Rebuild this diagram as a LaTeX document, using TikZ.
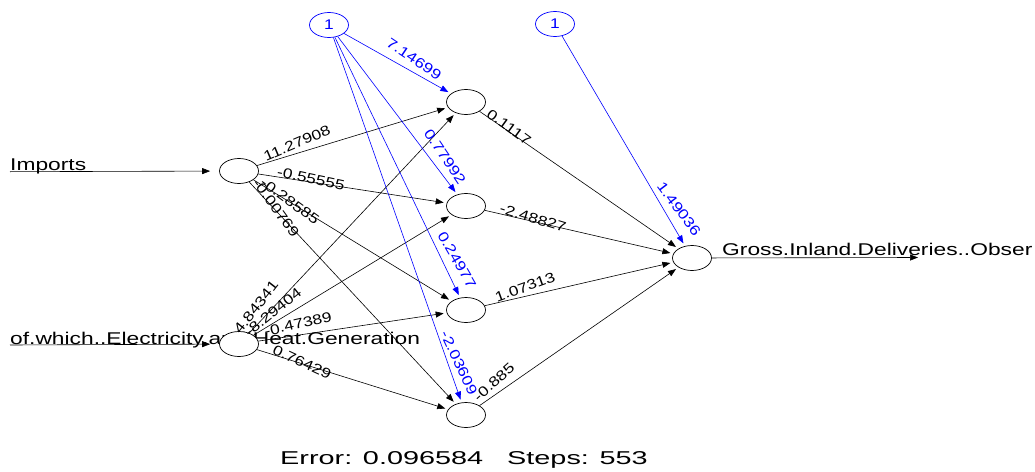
\documentclass[tikz,border=0pt]{standalone}
\usepackage{fontspec}
\setmainfont{Liberation Sans}
\newfontfamily\lblfont{Liberation Sans}[FakeStretch=1.34]
\newfontfamily\wtfont{Liberation Sans}[FakeStretch=1.24]
\newfontfamily\errfont{Liberation Sans}[FakeStretch=1.55]
\usetikzlibrary{arrows.meta,shapes.geometric}

\tikzset{
  neuron/.style={ellipse, draw, fill=white, minimum width=39pt, minimum height=25pt, inner sep=0pt, line width=0.7pt},
  biasn/.style={neuron, draw=blue, text=blue, font=\wtfont\fontsize{14}{14}\selectfont},
  wire/.style={line width=0.6pt, -{Triangle[length=8pt,width=6pt]}, shorten >=3pt},
  bwire/.style={wire, draw=blue, color=blue},
  wt/.style={font=\wtfont\fontsize{14}{14}\selectfont, inner sep=0pt},
  bwt/.style={wt, text=blue},
  lbl/.style={font=\lblfont\fontsize{17}{17}\selectfont, inner sep=0pt, anchor=base west}
}

\begin{document}
\begin{tikzpicture}[x=1pt,y=-1pt]
\useasboundingbox (0,0) rectangle (1035,471);

\def\xin{239};
\def\xhid{466};
\def\xout{692};

% input and output texts
\node[lbl] (tin1) at (10,170.5) {Imports};
\node[lbl] (tin2) at (10,344) {of.which..Electricity.and.Heat.Generation};
\node[lbl] (tout) at (722,255.5) {Gross.Inland.Deliveries..Obser};

\coordinate (in1) at (10,171.7);
\coordinate (in2) at (10,345);
\coordinate (out) at (918,257.5);

% neurons
\node[neuron] (i1) at (\xin,171) {};
\node[neuron] (i2) at (\xin,344) {};

\node[neuron] (h1) at (\xhid,102) {};
\node[neuron] (h2) at (\xhid,206) {};
\node[neuron] (h3) at (\xhid,310) {};
\node[neuron] (h4) at (\xhid,415) {};

\node[neuron] (o) at (\xout,258) {};

\node[biasn] (b1) at (329,25) {1};
\node[biasn] (b2) at (555,24) {1};

% connections
\draw[wire, shorten >=9pt] (in1) -- (i1);
\draw[wire, shorten >=9pt] (in2) -- (i2);
\foreach \s in {i1,i2}
  \foreach \t in {h1,h2,h3,h4}
    \draw[wire] (\s) -- (\t);
\foreach \t in {h1,h2,h3,h4}
  \draw[bwire] (b1) -- (\t);
\foreach \s in {h1,h2,h3,h4}
  \draw[wire] (\s) -- (o);
\draw[bwire] (b2) -- (o);
\draw[wire, shorten >=0pt] (o) -- (out);

% weights
\node[wt, rotate=23]  (w11) at (297,143) {11.27908};
\node[wt, rotate=-12] (w12) at (311,179) {-0.55555};
\node[wt, rotate=-36] (w13) at (290,201) {-0.28585};
\node[wt, rotate=-54] (w14) at (276,208) {-0.00769};
\node[wt, rotate=52]  (w21) at (256,307) {4.84341};
\node[wt, rotate=39]  (w22) at (273,312) {-8.29404};
\node[wt, rotate=13]  (w23) at (298,324) {-0.47389};
\node[wt, rotate=-25] (w24) at (302,362) {0.76429};

\node[bwt, rotate=-34] (wb1) at (414,59) {7.14699};
\node[bwt, rotate=-56] (wb2) at (445,157) {0.77992};
\node[bwt, rotate=-60] (wb3) at (457,260) {0.24977};
\node[bwt, rotate=-65] (wb4) at (459,363) {-2.03609};

\node[wt, rotate=-36] (v1) at (509,127) {0.1117};
\node[wt, rotate=-17] (v2) at (533,218) {-2.48827};
\node[wt, rotate=20]  (v3) at (525,287) {1.07313};
\node[wt, rotate=42]  (v4) at (494,382) {-0.885};
\node[bwt, rotate=-53] (vb) at (679,209) {1.49036};

\node[font=\errfont\fontsize{18.6}{19}\selectfont, inner sep=0pt] (err) at (464,460) {Error: 0.096584\ \ \ Steps: 553};

\end{tikzpicture}
\end{document}
